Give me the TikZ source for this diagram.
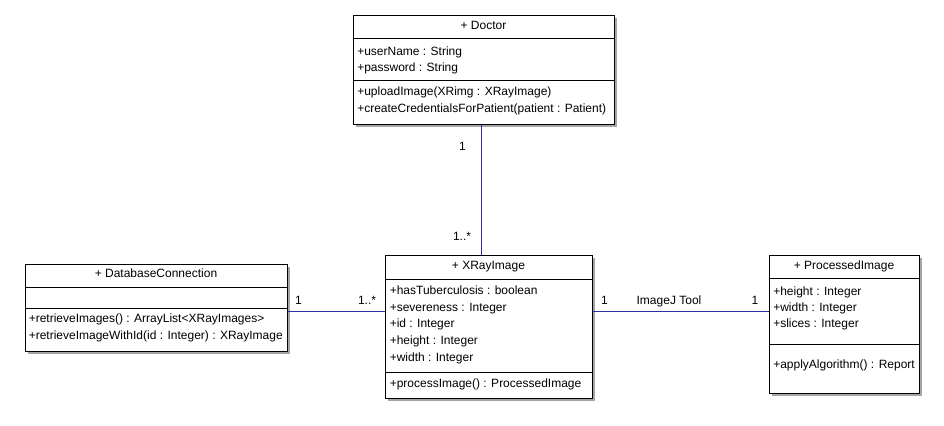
\documentclass[tikz,border=0pt]{standalone}
\usepackage{fontspec}
\setmainfont{Liberation Sans}
\usetikzlibrary{shadows}

\definecolor{assoccolor}{RGB}{48,48,160}
\definecolor{shadowgray}{RGB}{165,165,165}

\tikzset{
  umlbox/.style={draw=black, line width=0.75pt, fill=white, rectangle,
    inner sep=0pt, anchor=north west,
    drop shadow={shadow xshift=1.6pt, shadow yshift=-1.6pt, fill=shadowgray, opacity=1}},
  divider/.style={draw=black, line width=0.75pt},
  member/.style={anchor=base west, inner sep=0pt, font=\fontsize{9pt}{11pt}\selectfont},
  title/.style={anchor=base, inner sep=0pt, font=\fontsize{9pt}{11pt}\selectfont},
  mult/.style={anchor=base, inner sep=0pt, font=\fontsize{9pt}{11pt}\selectfont},
  assoc/.style={draw=assoccolor, line width=0.75pt},
}

\begin{document}
\begin{tikzpicture}[x=0.75pt, y=-0.75pt]
\useasboundingbox[fill=white] (0,0) rectangle (944,425);

% ---- Doctor ----
\node[umlbox, minimum width=195.75pt, minimum height=81.75pt] (doctor) at (353,15) {};
\draw[divider] (doctor.west |- 0,38.5) -- (doctor.east |- 0,38.5);
\draw[divider] (doctor.west |- 0,80.5) -- (doctor.east |- 0,80.5);
\node[title] (doctorT) at (483.5,29) {+ Doctor};
\node[member] (d1) at (357,55) {+userName : String};
\node[member] (d2) at (357,71.5) {+password : String};
\node[member] (d3) at (357,95.5) {+uploadImage(XRimg : XRayImage)};
\node[member] (d4) at (357,112) {+createCredentialsForPatient(patient : Patient)};

% ---- DatabaseConnection ----
\node[umlbox, minimum width=196.5pt, minimum height=65.25pt] (db) at (25,264) {};
\draw[divider] (db.west |- 0,287.5) -- (db.east |- 0,287.5);
\draw[divider] (db.west |- 0,308.5) -- (db.east |- 0,308.5);
\node[title] (dbT) at (156,277.5) {+ DatabaseConnection};
\node[member] (b1) at (28.5,322) {+retrieveImages() : ArrayList<XRayImages>};
\node[member] (b2) at (28.5,339) {+retrieveImageWithId(id : Integer) : XRayImage};

% ---- XRayImage ----
\node[umlbox, minimum width=155.25pt, minimum height=107.25pt] (xray) at (385,255) {};
\draw[divider] (xray.west |- 0,279.5) -- (xray.east |- 0,279.5);
\draw[divider] (xray.west |- 0,372.5) -- (xray.east |- 0,372.5);
\node[title] (xrayT) at (488.5,269.5) {+ XRayImage};
\node[member] (x1) at (389.5,294) {+hasTuberculosis : boolean};
\node[member] (x2) at (389.5,311) {+severeness : Integer};
\node[member] (x3) at (389.5,327.5) {+id : Integer};
\node[member] (x4) at (389.5,344) {+height : Integer};
\node[member] (x5) at (389.5,361) {+width : Integer};
\node[member] (x6) at (389.5,387) {+processImage() : ProcessedImage};

% ---- ProcessedImage ----
\node[umlbox, minimum width=112.5pt, minimum height=103.5pt] (proc) at (769,255) {};
\draw[divider] (proc.west |- 0,278.5) -- (proc.east |- 0,278.5);
\draw[divider] (proc.west |- 0,344.5) -- (proc.east |- 0,344.5);
\node[title] (procT) at (844,269.5) {+ ProcessedImage};
\node[member] (p1) at (773,295) {+height : Integer};
\node[member] (p2) at (773,311) {+width : Integer};
\node[member] (p3) at (773,327.5) {+slices : Integer};
\node[member] (p4) at (773,368) {+applyAlgorithm() : Report};

% ---- associations ----
\draw[assoc] (doctor.south -| 481.5,0) -- (xray.north -| 481.5,0);
\draw[assoc] (db.east |- 0,311.5) -- (xray.west |- 0,311.5);
\draw[assoc] (xray.east |- 0,311.5) -- (proc.west |- 0,311.5);

% ---- multiplicities and role name ----
\node[mult] (m1) at (462.5,150) {1};
\node[mult] (m2) at (462,240) {1..*};
\node[mult] (m3) at (298.5,304.5) {1};
\node[mult] (m4) at (367,304.5) {1..*};
\node[mult] (m5) at (604.5,304.5) {1};
\node[mult] (role) at (669,304.5) {ImageJ Tool};
\node[mult] (m6) at (755,304.5) {1};
\end{tikzpicture}
\end{document}
